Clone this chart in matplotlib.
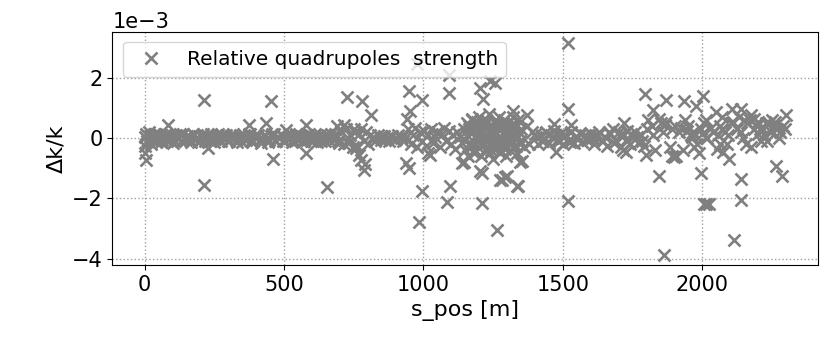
import numpy as np
import matplotlib
matplotlib.use("Agg")
import matplotlib.pyplot as plt

# quiet part of the ring, values in units of 1e-3
band_s = [0, 4, 9, 15, 22, 29, 36, 44, 52, 60, 68, 76, 85, 94, 103, 112, 121, 130,
          139, 148, 158, 168, 178, 188, 198, 208, 218, 228, 238, 248, 258, 268, 278,
          288, 298, 308, 318, 328, 338, 348, 358, 368, 378, 388, 398, 408, 418, 428,
          438, 448, 458, 468, 478, 488, 498, 508, 518, 528, 538, 548, 558, 568, 578,
          588, 598, 608, 618, 628, 638, 648, 658, 668, 678, 688, 698,
          706, 714, 722, 730, 738, 746, 754, 762, 770, 778, 786, 794, 802, 810,
          818, 828, 838, 848, 858, 868, 878, 888, 898, 908, 918, 928, 938,
          1400, 1410, 1420, 1430, 1440, 1450, 1460, 1470, 1480, 1490, 1500, 1510, 1520,
          1530, 1540, 1550, 1560, 1570, 1580, 1590, 1600, 1610, 1620, 1630, 1640, 1650,
          1660, 1670, 1680, 1690, 1700, 1710, 1720, 1730, 1740, 1750, 1760, 1770, 1780, 1790]
band_dk = [-0.25, 0.15, -0.1, 0.2, -0.2, 0.05, 0.12, -0.08, 0.1, -0.12, 0.05, 0.15, -0.05,
           0.08, -0.15, 0.1, 0.02, -0.1, 0.12, -0.05, 0.08, -0.12, 0.1, 0.0, -0.1, 0.15,
           -0.08, 0.05, 0.12, -0.12, 0.06, -0.05, 0.1, 0.0, -0.1, 0.08, 0.12, -0.06, 0.04,
           -0.12, 0.1, 0.0, 0.15, -0.1, 0.05, 0.1, -0.15, 0.08, 0.0, -0.05, 0.12, -0.1,
           0.05, 0.1, -0.08, 0.0, 0.12, -0.12, 0.06, -0.05, 0.1, -0.1, 0.04, 0.12, -0.08,
           0.05, -0.12, 0.1, 0.0, -0.1, 0.08, 0.15, -0.05, 0.1, -0.15,
           0.25, -0.2, 0.3, -0.15, 0.1, -0.3, 0.2, -0.25, 0.15, 0.3, -0.1, 0.2, -0.2, 0.1,
           0.05, -0.08, 0.1, -0.05, 0.08, 0.0, -0.1, 0.06, -0.06, 0.1, 0.02, -0.08, 0.05,
           0.15, -0.2, 0.1, -0.1, 0.2, -0.15, 0.05, 0.25, -0.05, 0.12, -0.2, 0.1, -0.1,
           0.2, -0.15, 0.05, 0.18, -0.12, 0.1, -0.05, 0.15, -0.2, 0.08, 0.2, -0.1, 0.05,
           -0.25, 0.15, 0.3, -0.1, 0.2, -0.3, 0.1, 0.25, -0.2, 0.05, 0.2, -0.15, 0.1, -0.25]

# second layer of the quiet band
fill_s = [2, 12, 19, 26, 33, 40, 48, 56, 64, 72, 80, 90, 99, 108, 117, 126, 135, 144,
          153, 163, 173, 183, 193, 203, 213, 223, 233, 243, 253, 263, 273, 283, 293,
          303, 313, 323, 333, 343, 353, 363, 373, 383, 393, 403, 413, 423, 433, 443,
          453, 463, 473, 483, 493, 503, 513, 523, 533, 543, 553, 563, 573, 583, 593,
          603, 613, 623, 633, 643, 653, 663, 673, 683, 693, 823, 843, 863, 883, 903,
          923, 1405, 1425, 1445, 1465, 1485, 1505, 1525, 1545, 1565, 1585, 1605, 1625,
          1645, 1665, 1685, 1705, 1725, 1745, 1765, 1785]
fill_dk = [0.05, -0.1, 0.08, -0.05, 0.12, -0.12, 0.02, 0.1, -0.06, 0.08, -0.1, 0.0,
           0.1, -0.08, 0.05, 0.12, -0.1, 0.0, 0.08, -0.06, 0.12, 0.02, -0.12, 0.06,
           0.0, 0.1, -0.1, 0.05, -0.02, 0.12, -0.08, 0.06, 0.1, -0.1, 0.0, 0.05, -0.12,
           0.1, 0.02, -0.06, 0.12, -0.1, 0.04, 0.08, -0.05, 0.0, 0.1, -0.12, 0.06, 0.12,
           -0.08, 0.0, 0.1, -0.1, 0.05, 0.08, -0.06, 0.12, -0.02, 0.06, -0.1, 0.1, 0.0,
           -0.08, 0.12, 0.02, -0.1, 0.06, 0.1, -0.06, 0.0, 0.12, -0.1, 0.0, 0.05, -0.05,
           0.08, -0.02, 0.04, 0.05, -0.1, 0.12, 0.0, -0.08, 0.1, -0.12, 0.05, 0.15,
           -0.05, 0.0, 0.1, -0.1, 0.2, -0.15, 0.1, -0.05, 0.15, 0.05, -0.1]

# busier sections
busy_s = [946, 954, 962, 970, 978, 986, 994, 1002, 1010, 1018, 1026, 1034, 1042, 1050,
          1058, 1066, 1074, 1082, 1090, 1098, 1106, 1114, 1122, 1130, 1138, 1146,
          1150, 1155, 1160, 1165, 1170, 1175, 1180, 1185, 1190, 1195, 1200, 1205, 1210,
          1215, 1220, 1225, 1230, 1235, 1240, 1245, 1250, 1255, 1260, 1265, 1270, 1275,
          1280, 1285, 1290, 1295, 1300, 1305, 1310, 1315, 1320, 1325, 1330, 1335, 1340,
          1345, 1350, 1360, 1370, 1380, 1390,
          1158, 1168, 1178, 1188, 1198, 1208, 1218, 1228, 1238, 1248, 1258, 1268, 1278,
          1288, 1298, 1308, 1318, 1328, 1338, 1348,
          1162, 1172, 1182, 1192, 1202, 1212, 1222, 1232, 1242, 1252, 1262, 1272, 1282,
          1292, 1302, 1312, 1322, 1332, 1342, 1185, 1205, 1225, 1245, 1265, 1285, 1305,
          1325, 1176, 1196, 1216, 1236, 1256, 1276, 1296, 1316,
          1800, 1806, 1818, 1824, 1831, 1845, 1852, 1858, 1866, 1871, 1884, 1890, 1902,
          1907, 1915, 1922, 1930, 1938, 1947, 1950, 1958, 1970, 1975, 1981, 1994, 2000,
          2012, 2018, 2033, 2040, 2052, 2057, 2063, 2071, 2080, 2088, 2094, 2103, 2110,
          2124, 2130, 2140, 2146, 2155, 2160, 2171, 2176, 2185, 2195, 2200, 2212, 2218,
          2228, 2233, 2245, 2250, 2256, 2268, 2274, 2280, 2291, 2297,
          1960, 1964, 1968, 2005, 2015, 2062, 2076, 2186, 2206, 2222, 2240, 2262]
busy_dk = [0.3, -0.2, 0.1, 0.35, -0.3, 0.2, -0.1, 0.25, -0.25, 0.1, 0.3, -0.15, 0.05,
           0.2, -0.3, 0.15, 0.35, -0.1, 0.25, -0.2, 0.1, -0.35, 0.2, 0.05, -0.15, 0.3,
           -0.4, 0.5, -0.6, 0.3, -0.2, 0.6, -0.5, 0.4, 0.1, -0.3, 0.7, -0.6, 0.2, 0.5,
           -0.4, 0.6, -0.1, 0.8, -0.5, 0.3, -0.7, 0.5, 0.2, -0.3, 0.7, -0.5, 0.4, -0.2,
           0.6, -0.6, 0.3, 0.5, -0.4, 0.2, 0.7, -0.3, 0.4, -0.5, 0.6, -0.2, 0.3, -0.3,
           0.4, -0.2, 0.2,
           0.1, -0.15, 0.2, 0.0, -0.1, 0.15, -0.2, 0.05, 0.25, -0.05, 0.1, -0.25, 0.0,
           0.2, -0.1, 0.15, -0.15, 0.1, 0.05, -0.1,
           0.4, -0.3, 0.3, 0.55, -0.2, 0.45, 0.0, 0.35, -0.4, 0.25, 0.6, -0.1, 0.45,
           -0.35, 0.3, 0.0, 0.5, -0.25, 0.2, -0.45, 0.2, 0.6, -0.3, 0.35, 0.5, -0.15,
           0.3, 0.65, -0.05, 0.4, 0.1, 0.5, -0.2, 0.25, 0.45,
           0.3, 0.6, 0.4, 0.1, -0.4, 0.65, 0.5, 0.2, 0.45, 0.55, -0.3, 0.3, 0.4, -0.6,
           0.2, 0.35, -0.4, 0.6, 0.25, 0.4, 0.1, -0.3, 0.1, -0.2, 0.3, 0.15,
           0.6, 0.0, 0.35, 0.2, -0.35, 0.1, -0.2, 0.3, 0.2, -0.2, 0.1, 0.5, 0.55,
           0.3, 0.7, 0.2, 0.0, -0.2, 0.5, 0.6, -0.3, 0.3, 0.4, 0.15, -0.1, 0.3,
           0.5, -0.1, 0.2, 0.6, 0.4, 0.3, 0.0, 0.2, 0.4, 0.3,
           0.1, 0.05, 0.2, 0.5, 0.0, 0.4, -0.45, 0.65, 0.3, 0.1, 0.5, 0.55]

# isolated large errors
outlier_s = [2, 7, 85, 214, 214, 227, 375, 436, 454, 460, 507, 579, 579, 656, 727, 690,
             715, 750, 757, 768, 775, 781, 786, 790, 811,
             937, 942, 948, 948, 953, 977, 983, 995, 995, 1018, 1025, 1083, 1090, 1090,
             1096, 1138, 1144, 1204, 1204, 1209, 1209, 1215, 1239, 1257, 1263, 1275,
             1281, 1293, 1298, 1321, 1334, 1340, 1346, 1352, 1370,
             1470, 1477, 1517, 1517, 1517, 1531, 1714, 1721, 1727, 1793, 1798, 1823,
             1846, 1864, 1870, 1893, 1900, 1936, 1977, 1989, 1995, 2001, 2005, 2013,
             2025, 2050, 2070, 2096, 2107, 2114, 2138, 2138, 2138, 2150, 2175, 2200,
             2263, 2287, 2299]
outlier_dk = [-0.5, -0.72, 0.45, 1.27, -1.55, -0.33, 0.45, 0.5, 1.23, -0.7, 0.28, 0.45,
              -0.5, -1.63, 1.35, 0.4, 0.45, 0.3, -0.33, -0.55, -0.72, 1.23, -1.05, -0.85,
              0.78,
              -0.83, 0.62, 1.56, -0.98, 0.9, 2.45, -2.77, 1.28, -1.77, -0.5, -0.55,
              -2.13, 1.5, 2.08, -1.6, -0.83, -0.8, 1.67, -1.1, -2.16, -1.15, 1.3, 1.9,
              1.84, -3.05, -1.38, -1.38, -1.3, -1.25, 0.9, -1.6, -1.58, -0.8, -0.77, 0.78,
              0.47, -0.45, 3.17, 0.95, -2.1, 0.45, -0.38, 0.5, -0.45, 1.47, -0.55, 0.92,
              -1.25, -3.86, 1.28, -0.6, -0.62, 1.23, 1.06, -0.5, -1.16, 1.4, -2.2, -2.17,
              -2.2, 0.85, 0.7, -0.7, 0.95, -3.38, 0.95, -1.36, -2.05, 0.6, 0.75, 0.55,
              -0.94, -1.25, 0.75]

s_pos = np.array(band_s + fill_s + busy_s + outlier_s)
dk_k = np.array(band_dk + fill_dk + busy_dk + outlier_dk) * 1e-3

plt.rcParams['font.size'] = 15
fig = plt.figure(figsize=(8.21, 3.47), dpi=100)
ax = fig.add_axes([0.137, 0.236, 0.859, 0.672])
ax.plot(s_pos, dk_k, 'x', color='gray', markersize=8.5, markeredgewidth=1.9,
        label='Relative quadrupoles  strength')
ax.set_xlabel('s_pos [m]', fontsize=16)
ax.set_ylabel('Δk/k', fontsize=16)
ax.grid(True, linestyle=':', color='#a0a0a0', linewidth=1)
ax.legend(loc='upper left', fontsize=14.5)
ax.set_xticks([0, 500, 1000, 1500, 2000])
ax.set_yticks([-4e-3, -2e-3, 0, 2e-3])
ax.ticklabel_format(axis='y', style='sci', scilimits=(0, 0))
fig.savefig('out.png', dpi=100)
